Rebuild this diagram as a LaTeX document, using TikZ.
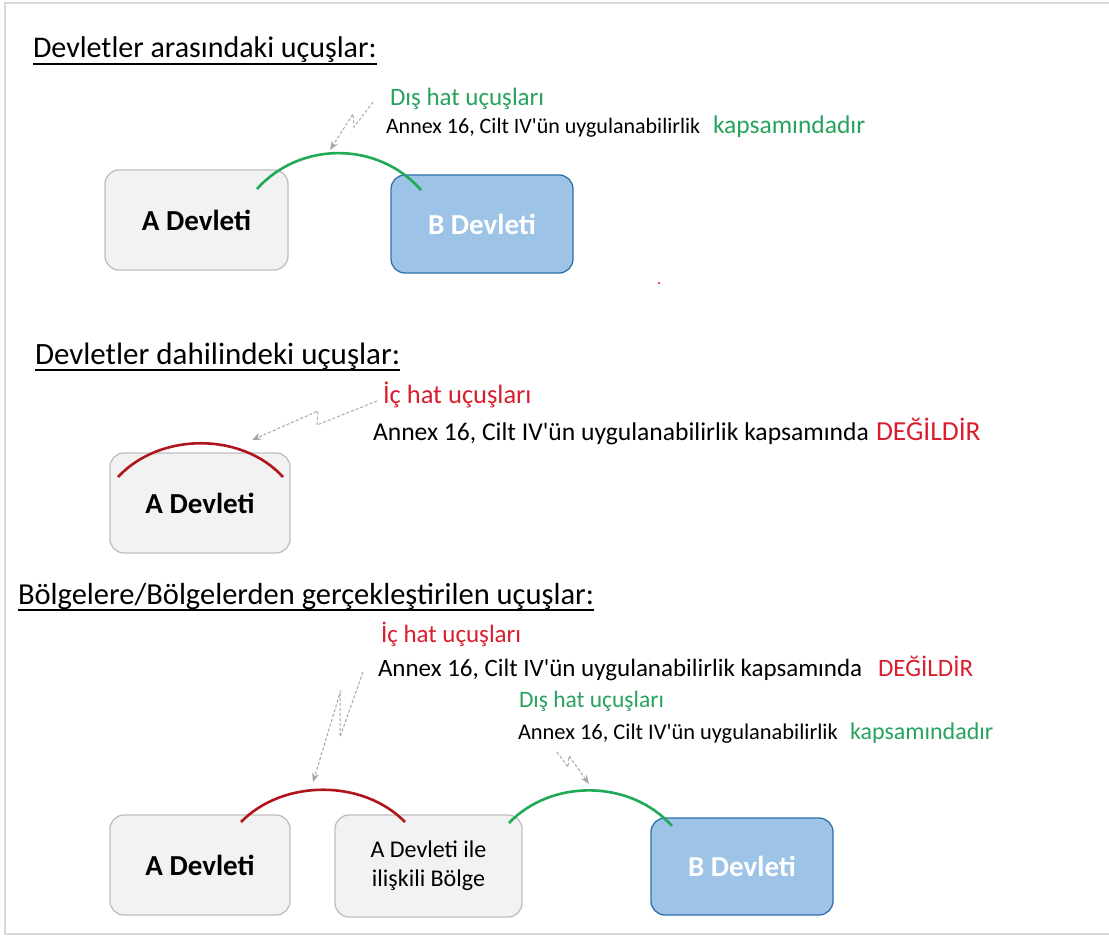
\documentclass[tikz,border=0pt]{standalone}
\usepackage{fontspec}
\setmainfont{Carlito}
\usetikzlibrary{arrows.meta}
\definecolor{grn}{HTML}{27A35E}
\definecolor{arcgrn}{HTML}{1FAA55}
\definecolor{arcred}{HTML}{B0151B}
\definecolor{txtred}{HTML}{D91E2E}
\definecolor{boxgray}{HTML}{F2F2F2}
\definecolor{boxline}{HTML}{BFBFBF}
\definecolor{bluefill}{HTML}{9DC3E6}
\definecolor{blueline}{HTML}{2F6FB0}
\definecolor{bolt}{HTML}{A6A6A6}
\definecolor{frame}{HTML}{D9D9D9}
\newcommand\myfs[1]{\fontsize{#1}{#1}\selectfont}
\newcommand\apo{\textquotesingle}
\begin{document}
\begin{tikzpicture}[x=1pt,y=-1pt,
  txt/.style={anchor=base west, inner sep=0pt, outer sep=0pt},
  titletxt/.style={txt, font=\myfs{30.5}},
  graybox/.style={draw=boxline, fill=boxgray, line width=1.3pt, rounded corners=14pt},
  bluebox/.style={draw=blueline, fill=bluefill, line width=1.3pt, rounded corners=14pt, text=white},
  boldlbl/.style={font=\myfs{29}\bfseries},
  boltline/.style={draw=bolt, densely dashed, line width=1pt, -{Stealth[length=9pt,width=7pt]}},
  arcline/.style={line width=2.6pt}]
\useasboundingbox (0,0) rectangle (1109,936);
\fill[white] (0,0) rectangle (1109,936);
\draw[frame, line width=1.5pt] (1109,3) -- (5,3) -- (5,934) -- (1109,934);

% ---------- Section 1
\node[titletxt, font=\myfs{30}] (t1) at (33,58) {Devletler arasındaki uçuşlar:};
\draw[line width=1.4pt] ([yshift=-6pt]t1.base west) -- ([yshift=-6pt]t1.base east);
\node[txt, font=\myfs{25}, text=grn] (d1) at (390,106) {Dış hat uçuşları};
\node[txt, font=\myfs{22}] (n1) at (386,134) {Annex 16, Cilt IV\apo ün uygulanabilirlik};
\node[txt, font=\myfs{25.5}, text=grn] (k1) at (713,134) {kapsamındadır};

\node[graybox, boldlbl, minimum width=183pt, minimum height=100pt] (a1) at (196.5,220) {\raisebox{-3pt}{A Devleti}};
\node[bluebox, boldlbl, minimum width=182pt, minimum height=98pt] (b1) at (482,224) {B Devleti};
\coordinate (g1s) at (257,189);
\coordinate (g1e) at (421,190);
\draw[arcline, arcgrn] (g1s) .. controls (300,141) and (378,141) .. (g1e);
\coordinate (l1a) at (373,102);
\coordinate (l1b) at (354,127);
\coordinate (l1c) at (353,114);
\coordinate (l1d) at (330,150);
\draw[boltline] (l1a) -- (l1b) -- (l1c) -- (l1d);
\fill[txtred!80] (659,283) circle (1.3);

% ---------- Section 2
\node[titletxt, font=\myfs{31}] (t2) at (35,364) {Devletler dahilindeki uçuşlar:};
\draw[line width=1.4pt] ([yshift=-6pt]t2.base west) -- ([yshift=-6pt]t2.base east);
\node[txt, font=\myfs{26.5}, text=txtred] (i2) at (383,403) {İç hat uçuşları};
\node[txt, font=\myfs{25.6}] (n2) at (373,440) {Annex 16, Cilt IV\apo ün uygulanabilirlik kapsamında};
\node[txt, font=\myfs{27.5}, text=txtred] (x2) at (876,440) {DEĞİLDİR};

\node[graybox, boldlbl, minimum width=180pt, minimum height=100pt] (a2) at (200,503) {A Devleti};
\coordinate (r2s) at (118,477);
\coordinate (r2e) at (283,477);
\draw[arcline, arcred] (r2s) .. controls (160,432) and (242,432) .. (r2e);
\coordinate (l2a) at (377,401);
\coordinate (l2b) at (317,425);
\coordinate (l2c) at (318,411);
\coordinate (l2d) at (252,440);
\draw[boltline] (l2a) -- (l2b) -- (l2c) -- (l2d);

% ---------- Section 3
\node[titletxt] (t3) at (18,604) {Bölgelere/Bölgelerden gerçekleştirilen uçuşlar:};
\draw[line width=1.4pt] ([yshift=-6pt]t3.base west) -- ([yshift=-6pt]t3.base east);
\node[txt, font=\myfs{25}, text=txtred] (i3) at (381,642) {İç hat uçuşları};
\node[txt, font=\myfs{25}] (n3) at (378,676) {Annex 16, Cilt IV\apo ün uygulanabilirlik kapsamında};
\node[txt, font=\myfs{25}, text=txtred] (x3) at (878,676) {DEĞİLDİR};
\node[txt, font=\myfs{23.5}, text=grn] (d3) at (519,707) {Dış hat uçuşları};
\node[txt, font=\myfs{22.4}] (m3) at (518,739) {Annex 16, Cilt IV\apo ün uygulanabilirlik};
\node[txt, font=\myfs{24}, text=grn] (k3) at (850,739) {kapsamındadır};

\node[graybox, boldlbl, minimum width=180pt, minimum height=100pt] (a3) at (200,865) {A Devleti};
\node[graybox, font=\fontsize{24}{29}\selectfont, align=center, minimum width=187pt, minimum height=102pt] (z3) at (428.5,866) {A Devleti ile\\ilişkili Bölge};
\node[bluebox, boldlbl, minimum width=182pt, minimum height=97pt] (b3) at (742,866.5) {B Devleti};
\coordinate (r3s) at (241,822);
\coordinate (r3e) at (405,822);
\draw[arcline, arcred] (r3s) .. controls (283,779) and (363,779) .. (r3e);
\coordinate (g3s) at (509,823);
\coordinate (g3e) at (672,826);
\draw[arcline, arcgrn] (g3s) .. controls (551,779) and (630,779) .. (g3e);
\coordinate (l3a) at (363,672);
\coordinate (l3b) at (340,737);
\coordinate (l3c) at (340,693);
\coordinate (l3d) at (313,782);
\draw[boltline] (l3a) -- (l3b) -- (l3c) -- (l3d);
\coordinate (l4a) at (557,752);
\coordinate (l4b) at (568,767);
\coordinate (l4c) at (569,756);
\coordinate (l4d) at (589,784);
\draw[boltline] (l4a) -- (l4b) -- (l4c) -- (l4d);
\end{tikzpicture}
\end{document}
